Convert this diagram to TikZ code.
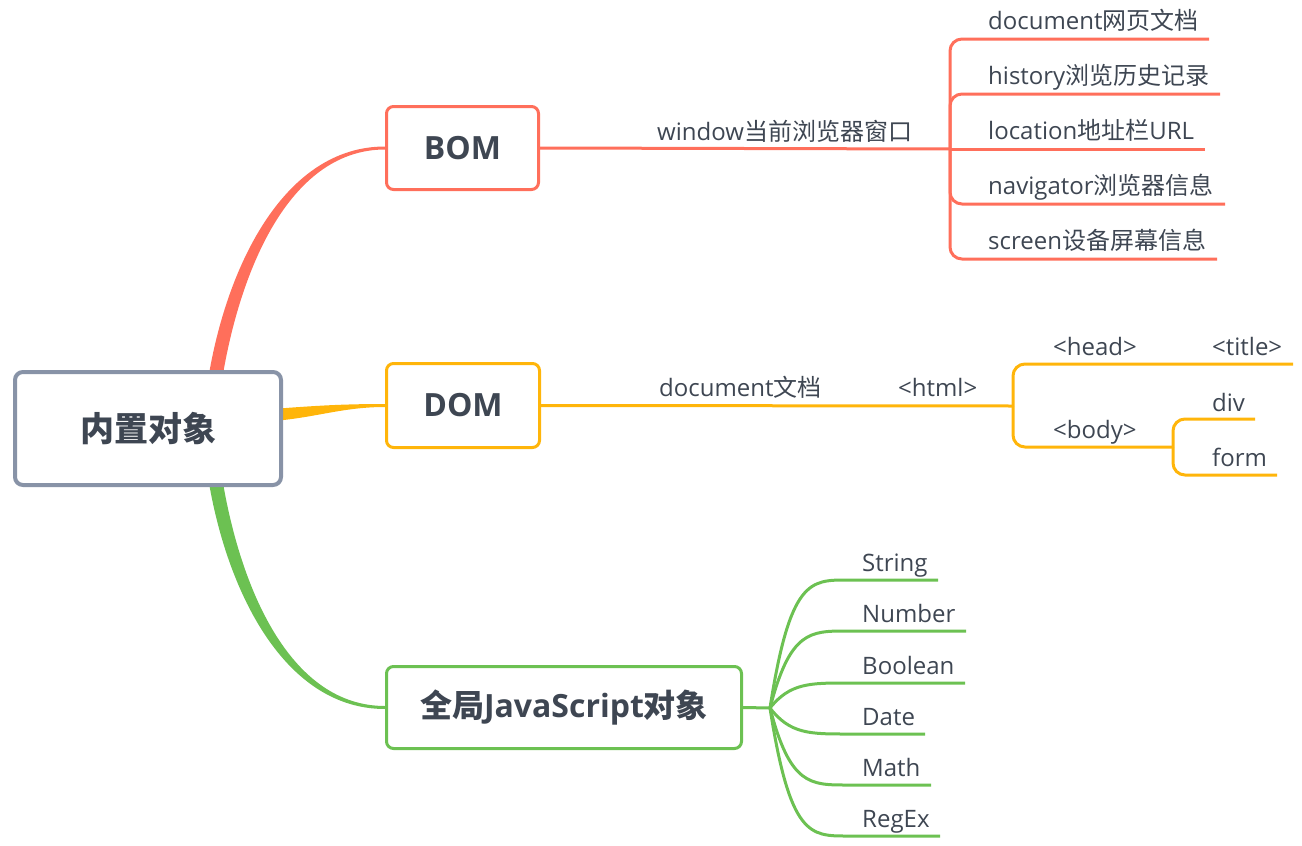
\documentclass[tikz,border=0pt]{standalone}
\usepackage{fontspec}
\setmainfont{Open Sans}
\newfontfamily\cjk{Noto Sans CJK SC}
\usetikzlibrary{backgrounds}
\definecolor{bomred}{RGB}{255,111,91}
\definecolor{domorange}{RGB}{255,181,10}
\definecolor{jsgreen}{RGB}{108,193,82}
\definecolor{rootgray}{RGB}{136,147,167}
\definecolor{txt}{RGB}{62,70,82}
\tikzset{
  topic/.style={draw, line width=3pt, rounded corners=7pt, fill=white, inner sep=0pt, text=txt, font=\bfseries\fontsize{32}{38}\selectfont},
  rootbox/.style={topic, draw=rootgray, line width=4pt, rounded corners=8pt, font=\bfseries\fontsize{34}{40}\selectfont},
  lbl/.style={anchor=base west, inner sep=0pt, text=txt, font=\fontsize{24}{28}\selectfont},
  rline/.style={draw=bomred, line width=3pt, rounded corners=12pt},
  oline/.style={draw=domorange, line width=3pt, rounded corners=12pt},
  gline/.style={draw=jsgreen, line width=3pt},
}
\begin{document}
\begin{tikzpicture}[x=1pt,y=-1pt]
\useasboundingbox (0,0) rectangle (1302,846);

% main topics
\node[rootbox, minimum width=266pt, minimum height=113pt] (root) at (148,428.5) {\cjk 内置对象};
\node[topic, draw=bomred, minimum width=152pt, minimum height=83pt] (bom) at (462.5,148) {BOM};
\node[topic, draw=domorange, minimum width=153pt, minimum height=84pt] (dom) at (463,405.5) {DOM};
\node[topic, draw=jsgreen, minimum width=355pt, minimum height=82pt] (js) at (564,707.5) {{\cjk 全局}JavaScript{\cjk 对象}};

% tapered main branches
\begin{scope}[on background layer]
\fill[bomred] ([xshift=61pt,yshift=-4pt]root.north) .. controls +(19,-110) and +(-100,0) .. ([yshift=1.5pt]bom.west)
  -- ([yshift=-1.5pt]bom.west) .. controls +(-93,0) and +(19,-110) .. ([xshift=75pt,yshift=-4pt]root.north) -- cycle;
\fill[jsgreen] ([xshift=61pt,yshift=4pt]root.south) .. controls +(19,110) and +(-100,0) .. ([yshift=-1.5pt]js.west)
  -- ([yshift=1.5pt]js.west) .. controls +(-93,0) and +(19,110) .. ([xshift=75pt,yshift=4pt]root.south) -- cycle;
\fill[domorange] ([xshift=-4pt,yshift=20pt]root.east) .. controls +(40,-3) and +(-40,0) .. ([yshift=1.5pt]dom.west)
  -- ([yshift=-1.5pt]dom.west) .. controls +(-40,0) and +(40,-4) .. ([xshift=-4pt,yshift=8pt]root.east) -- cycle;
\end{scope}

% ---------------- BOM ----------------
\coordinate (bomj) at (950,149);
\node[lbl] (win) at (657,140) {window{\cjk 当前浏览器窗口}};
\draw[rline] (bom.east) -- (bomj);
\coordinate (b1) at (1209,39);
\coordinate (b2) at (1220,94);
\coordinate (b3) at (1205,149);
\coordinate (b4) at (1225,204);
\coordinate (b5) at (1217,259);
\draw[rline] (bomj) |- (b1);
\draw[rline] (bomj) |- (b2);
\draw[rline] (bomj) -- (b3);
\draw[rline] (bomj) |- (b4);
\draw[rline] (bomj) |- (b5);
\node[lbl] (n1) at (988,29) {document{\cjk 网页文档}};
\node[lbl] (n2) at (988,84) {history{\cjk 浏览历史记录}};
\node[lbl] (n3) at (988,139) {location{\cjk 地址栏}URL};
\node[lbl] (n4) at (988,194) {navigator{\cjk 浏览器信息}};
\node[lbl] (n5) at (988,249) {screen{\cjk 设备屏幕信息}};

% ---------------- DOM ----------------
\coordinate (domj) at (1013,406);
\node[lbl] (doc) at (659,396) {document{\cjk 文档}};
\node[lbl] (html) at (898,396) {<html>};
\draw[oline] (dom.east) -- (domj);
\coordinate (headend) at (1293,364);
\coordinate (bodyj) at (1173,447);
\draw[oline] (domj) |- (headend);
\draw[oline] (domj) |- (bodyj);
\node[lbl] (head) at (1053,355) {<head>};
\node[lbl] (title) at (1212,355) {<title>};
\node[lbl] (body) at (1053,438) {<body>};
\coordinate (divend) at (1255,419);
\coordinate (formend) at (1277,475);
\draw[oline] (bodyj) |- (divend);
\draw[oline] (bodyj) |- (formend);
\node[lbl] (div) at (1212,411) {div};
\node[lbl] (form) at (1212,466) {form};

% ---------------- JS ----------------
\coordinate (jsj) at (770,708);
\draw[gline] (js.east) -- (jsj);
\foreach \nm/\yy/\xe in {String/580/938, Number/631/966, Boolean/683/965, Date/734/925, Math/785/931, RegEx/836/940}{
  \coordinate (\nm e) at (\xe,\yy);
  \draw[gline] (jsj) .. controls (790,\yy) and (810,\yy) .. (847,\yy) -- (\nm e);
  \node[lbl] (\nm) at (862,\yy-9) {\nm};
}
\end{tikzpicture}
\end{document}
